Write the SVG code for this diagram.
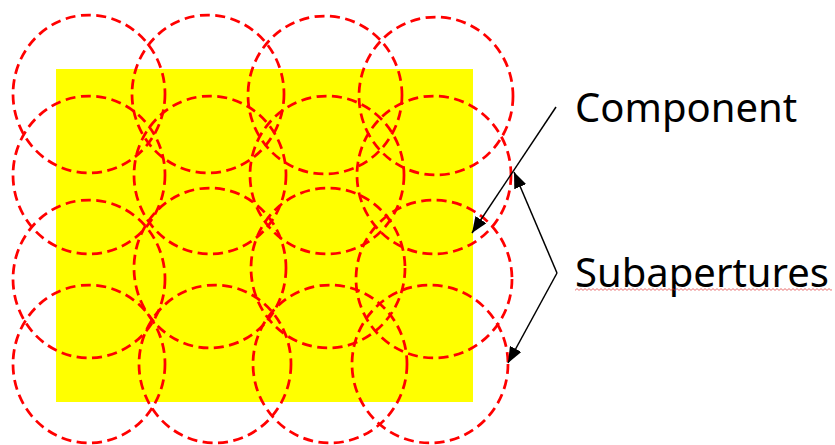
<svg xmlns="http://www.w3.org/2000/svg" width="835" height="445" viewBox="0 0 835 445">
<style>
.sub{fill:none;stroke:#FF0000;stroke-width:2.75;stroke-dasharray:10 5.5}
.lbl{font-family:"Noto Sans","Open Sans",sans-serif;font-size:40px;fill:#000}
.con{fill:none;stroke:#000;stroke-width:1.5}
</style>
<defs>
<marker id="ah" markerUnits="userSpaceOnUse" markerWidth="16" markerHeight="13" refX="16" refY="6.5" orient="auto">
<path d="M0,0 L16,6.5 L0,13 z" fill="#000"/>
</marker>
<pattern id="sq" patternUnits="userSpaceOnUse" x="575" y="288" width="4" height="3">
<path d="M0,2.4 L2,0.6 L4,2.4" fill="none" stroke="#E03030" stroke-width="0.7"/>
</pattern>
</defs>
<g id="component"><rect x="56" y="69" width="417" height="333" fill="#FFFF00"/></g>
<g id="subapertures">
<g id="s11"><ellipse class="sub" cx="89" cy="94" rx="76" ry="79"/></g>
<g id="s12"><ellipse class="sub" cx="208" cy="94" rx="76" ry="79"/></g>
<g id="s13"><ellipse class="sub" cx="325" cy="95" rx="77" ry="79"/></g>
<g id="s14"><ellipse class="sub" cx="436" cy="96" rx="77" ry="79"/></g>
<g id="s21"><ellipse class="sub" cx="89" cy="175" rx="76" ry="79"/></g>
<g id="s22"><ellipse class="sub" cx="210" cy="175" rx="76" ry="79"/></g>
<g id="s23"><ellipse class="sub" cx="327" cy="175" rx="77" ry="79"/></g>
<g id="s24"><ellipse class="sub" cx="434" cy="175" rx="77" ry="79"/></g>
<g id="s31"><ellipse class="sub" cx="89" cy="279" rx="76" ry="79"/></g>
<g id="s32"><ellipse class="sub" cx="210" cy="268" rx="76" ry="80"/></g>
<g id="s33"><ellipse class="sub" cx="328" cy="268" rx="77" ry="80"/></g>
<g id="s34"><ellipse class="sub" cx="434" cy="279" rx="78" ry="79"/></g>
<g id="s41"><ellipse class="sub" cx="89" cy="364" rx="76" ry="79"/></g>
<g id="s42"><ellipse class="sub" cx="215" cy="364" rx="76" ry="79"/></g>
<g id="s43"><ellipse class="sub" cx="330" cy="364" rx="77" ry="79"/></g>
<g id="s44"><ellipse class="sub" cx="430" cy="364" rx="78" ry="79"/></g>
</g>
<g id="connectors">
<path class="con" d="M556,107 L472,233" marker-end="url(#ah)"/>
<path class="con" d="M557,273 L514,172" marker-end="url(#ah)"/>
<path class="con" d="M557,273 L508,363" marker-end="url(#ah)"/>
</g>
<g id="label-component"><text class="lbl" x="575" y="122">Component</text></g>
<g id="label-subapertures">
<text class="lbl" x="575" y="287">Subapertures</text>
<rect x="575" y="288" width="257" height="3" fill="url(#sq)"/>
</g>
</svg>
